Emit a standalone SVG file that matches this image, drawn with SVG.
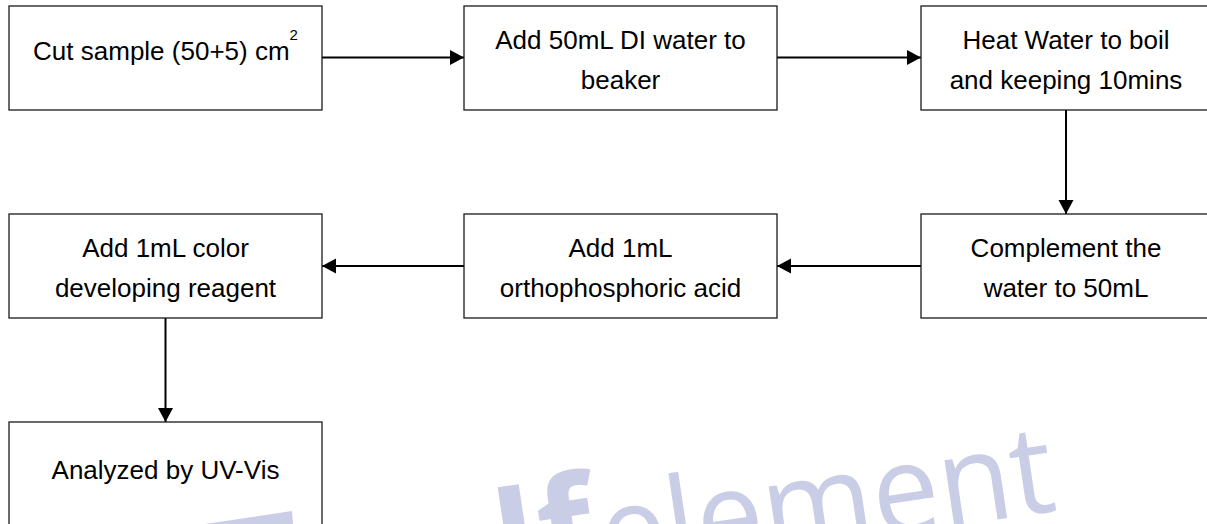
<svg xmlns="http://www.w3.org/2000/svg" width="1207" height="524" viewBox="0 0 1207 524">
<style>
.box{fill:#fff;stroke:#1a1a1a;stroke-width:1.3}
.t{font-family:"Liberation Sans",Arial,sans-serif;font-size:26px;fill:#000;text-anchor:middle}
.c{stroke:#000;stroke-width:2;fill:none}
.wm{fill:#c9cde6}
</style>
<defs>
<marker id="ah" markerUnits="userSpaceOnUse" markerWidth="16" markerHeight="16" viewBox="0 0 16 16" refX="15" refY="8" orient="auto">
<path d="M1,0.5 L15,8 L1,15.5 Z" fill="#000"/>
</marker>
</defs>
<rect width="1207" height="524" fill="#fff"/>
<g id="connectors">
<line class="c" x1="322" y1="57.5" x2="464" y2="57.5" marker-end="url(#ah)"/>
<line class="c" x1="777" y1="57.5" x2="921" y2="57.5" marker-end="url(#ah)"/>
<line class="c" x1="1066" y1="110" x2="1066" y2="214" marker-end="url(#ah)"/>
<line class="c" x1="921" y1="266" x2="777" y2="266" marker-end="url(#ah)"/>
<line class="c" x1="464" y1="266" x2="322" y2="266" marker-end="url(#ah)"/>
<line class="c" x1="165.5" y1="318" x2="165.5" y2="422" marker-end="url(#ah)"/>
</g>
<g id="n1">
<rect class="box" x="9" y="6" width="313" height="104"/>
<text class="t" x="165.5" y="60">Cut sample (50+5) cm<tspan font-size="15" dy="-20">2</tspan></text>
</g>
<g id="n2">
<rect class="box" x="464" y="6" width="313" height="104"/>
<text class="t" x="620.5" y="49">Add 50mL DI water to</text>
<text class="t" x="620.5" y="89">beaker</text>
</g>
<g id="n3">
<rect class="box" x="921" y="6" width="292" height="104"/>
<text class="t" x="1066" y="49">Heat Water to boil</text>
<text class="t" x="1066" y="89">and keeping 10mins</text>
</g>
<g id="n4">
<rect class="box" x="9" y="214" width="313" height="104"/>
<text class="t" x="165.5" y="257">Add 1mL color</text>
<text class="t" x="165.5" y="297">developing reagent</text>
</g>
<g id="n5">
<rect class="box" x="464" y="214" width="313" height="104"/>
<text class="t" x="620.5" y="257">Add 1mL</text>
<text class="t" x="620.5" y="297">orthophosphoric acid</text>
</g>
<g id="n6">
<rect class="box" x="921" y="214" width="292" height="104"/>
<text class="t" x="1066" y="257">Complement the</text>
<text class="t" x="1066" y="297">water to 50mL</text>
</g>
<g id="n7">
<rect class="box" x="9" y="422" width="313" height="112"/>
<text class="t" x="165.5" y="479">Analyzed by UV-Vis</text>
</g>
<g id="watermark">
<polygon class="wm" points="205,524 292,511 293,524"/>
<text class="wm" transform="translate(500,588) rotate(-8.5)" font-family="'Open Sans',sans-serif" font-weight="bold" font-size="140">If</text>
<text class="wm" transform="translate(606,578) rotate(-8.5)" font-family="'Open Sans',sans-serif" font-weight="normal" font-size="124" textLength="458" lengthAdjust="spacingAndGlyphs">element</text>
</g>
</svg>
